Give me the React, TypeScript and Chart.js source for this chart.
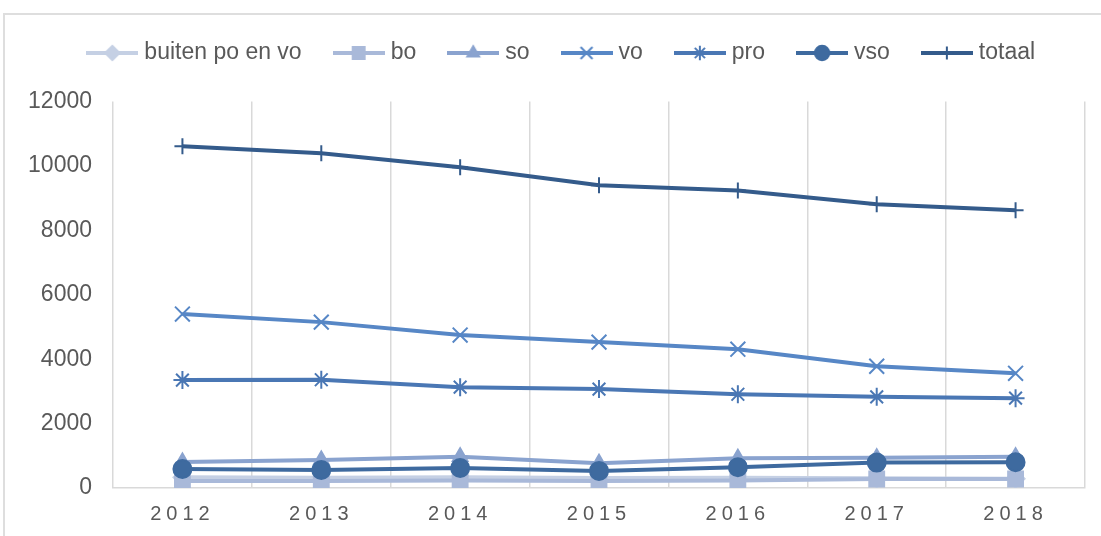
import React, { useEffect, useRef } from 'react';
import { Chart, registerables } from 'chart.js';
import { drawPoint } from 'chart.js/helpers';

Chart.register(...registerables);

const years = ['2012', '2013', '2014', '2015', '2016', '2017', '2018'];
const buitenPoEnVo = [330, 320, 330, 310, 320, 300, 290];
const bo = [220, 220, 230, 220, 230, 280, 280];
const so = [810, 870, 970, 770, 920, 940, 970];
const vo = [5400, 5150, 4750, 4530, 4310, 3780, 3560];
const pro = [3350, 3360, 3130, 3070, 2910, 2830, 2790];
const vso = [590, 560, 620, 530, 645, 790, 800];
const totaal = [10610, 10390, 9960, 9400, 9240, 8810, 8620];
const yTicks = [0, 2000, 4000, 6000, 8000, 10000, 12000];

const seriesNames = ['buiten po en vo', 'bo', 'so', 'vo', 'pro', 'vso', 'totaal'];
const seriesValues = [buitenPoEnVo, bo, so, vo, pro, vso, totaal];
const seriesColors = ['#c5d0e4', '#a9b9d9', '#8aa3cf', '#5787c6', '#4a77b4', '#3e6a9f', '#345b8b'];
const seriesStyles = ['rectRot', 'rect', 'triangle', 'crossRot', 'star', 'circle', 'cross'];
const seriesRadius = [9, 10.5, 8.5, 10.5, 9, 9, 8];

const FONT = "'Liberation Sans', Arial, sans-serif";
const TEXT = '#595959';
const GRID = '#d9d9d9';

function legendImage(color: string, style: string, radius: number) {
  const c = document.createElement('canvas');
  c.width = 52;
  c.height = 26;
  const ctx = c.getContext('2d')!;
  ctx.strokeStyle = color;
  ctx.lineWidth = 4;
  ctx.beginPath();
  ctx.moveTo(0, 13);
  ctx.lineTo(52, 13);
  ctx.stroke();
  ctx.fillStyle = color;
  ctx.strokeStyle = color;
  ctx.lineWidth = 2;
  drawPoint(ctx, { pointStyle: style as any, radius, rotation: 0, borderWidth: 2 } as any, 26, 13);
  return c;
}

const legendExtra = {
  id: 'legendExtra',
  beforeInit(chart: any) {
    const legend = chart.legend;
    if (!legend) return;
    const orig = legend.fit;
    legend.fit = function () {
      orig.call(this);
      this.height += 27;
    };
  },
  afterLayout(chart: any) {
    const legend = chart.legend;
    if (!legend) return;
    legend.left += 21;
    legend.right += 21;
  },
};

const xLetterSpacing = {
  id: 'xLetterSpacing',
  beforeDraw(chart: any) {
    const xs = chart.scales.x;
    if (xs && !xs.__ls) {
      const orig = xs.drawLabels.bind(xs);
      xs.drawLabels = (area: any) => {
        const ctx = chart.ctx as any;
        const prev = ctx.letterSpacing;
        ctx.letterSpacing = '5px';
        orig(area);
        ctx.letterSpacing = prev || '0px';
      };
      xs.__ls = true;
    }
  },
};

export default function App() {
  const ref = useRef<HTMLCanvasElement>(null);

  useEffect(() => {
    if (!ref.current) return;
    Chart.defaults.font.family = FONT;
    Chart.defaults.color = TEXT;
    const images = seriesNames.map((_, i) =>
      legendImage(seriesColors[i], seriesStyles[i], seriesRadius[i] * 0.8)
    );
    const chart = new Chart(ref.current, {
      type: 'line',
      data: {
        labels: years,
        datasets: seriesNames.map((name, i) => ({
          label: name,
          data: seriesValues[i],
          borderColor: seriesColors[i],
          backgroundColor: seriesColors[i],
          borderWidth: 4,
          pointStyle: seriesStyles[i] as any,
          pointRadius: seriesRadius[i],
          pointBorderWidth: 2,
          pointBackgroundColor: seriesColors[i],
          pointBorderColor: seriesColors[i],
          tension: 0,
          fill: false,
          order: seriesNames.length - i,
        })),
      },
      options: {
        responsive: false,
        animation: false,
        devicePixelRatio: 1,
        layout: { padding: { left: 0, right: 16, top: 5, bottom: 0 } },
        plugins: {
          tooltip: { enabled: false },
          legend: {
            position: 'top',
            labels: {
              usePointStyle: true,
              pointStyleWidth: 41,
              padding: 36.5,
              color: TEXT,
              font: { size: 23, family: FONT },
              generateLabels: (chart: any) =>
                chart.data.datasets.map((ds: any, i: number) => ({
                  text: ds.label,
                  fillStyle: seriesColors[i],
                  strokeStyle: seriesColors[i],
                  lineWidth: 0,
                  pointStyle: images[i],
                  datasetIndex: i,
                  hidden: false,
                  fontColor: TEXT,
                })),
            },
          },
        },
        scales: {
          x: {
            offset: true,
            afterFit: (s: any) => {
              s.height = 48;
            },
            grid: { display: true, offset: true, color: GRID, lineWidth: 1.5, drawTicks: false },
            border: { display: true, color: GRID, width: 1.5 },
            ticks: { padding: 14, color: TEXT, font: { size: 20, family: FONT } },
          },
          y: {
            min: 0,
            max: 12000,
            afterFit: (s: any) => {
              s.width = 113;
            },
            afterBuildTicks: (s: any) => {
              s.ticks = yTicks.map((v) => ({ value: v }));
            },
            grid: { display: false, drawTicks: false },
            border: { display: false },
            ticks: {
              padding: 21,
              color: TEXT,
              font: { size: 23, family: FONT },
              callback: (v: any) => String(v),
            },
          },
        },
      },
      plugins: [legendExtra, xLetterSpacing],
    });
    return () => chart.destroy();
  }, []);

  return (
    <div
      style={{
        position: 'absolute',
        left: 0,
        top: 0,
        width: 1101,
        height: 536,
        overflow: 'hidden',
        background: '#ffffff',
      }}
    >
      <div
        style={{
          position: 'absolute',
          left: 3,
          top: 13,
          width: 1200,
          height: 700,
          border: '2px solid #dedede',
        }}
      />
      <canvas
        ref={ref}
        width={1101}
        height={536}
        style={{ position: 'absolute', left: 0, top: 0, width: 1101, height: 536 }}
      />
    </div>
  );
}
